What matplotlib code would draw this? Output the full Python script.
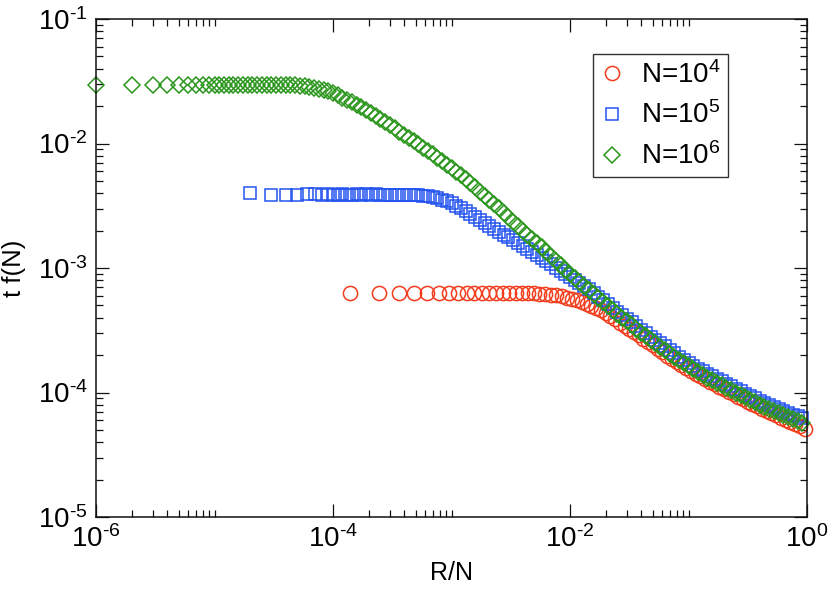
import numpy as np
import matplotlib
matplotlib.use("Agg")
import matplotlib.pyplot as plt
from matplotlib.ticker import FixedLocator, NullFormatter, FuncFormatter

plt.rcParams['font.family'] = ['Liberation Sans', 'DejaVu Sans']
plt.rcParams['mathtext.fontset'] = 'custom'
plt.rcParams['mathtext.rm'] = 'Liberation Sans'
plt.rcParams['mathtext.it'] = 'Liberation Sans:italic'
plt.rcParams['mathtext.bf'] = 'Liberation Sans:bold'
plt.rcParams['mathtext.default'] = 'regular'

# ---------------- data (log10 of R/N and of t f(N)) ----------------
labels = ['N=10$^4$', 'N=10$^5$', 'N=10$^6$']

red_logx = [
    -3.857, -3.613, -3.444, -3.314, -3.204, -3.108, -3.023, -2.945, -2.873, -2.806,
    -2.742, -2.681, -2.623, -2.566, -2.512, -2.459, -2.407, -2.357, -2.307, -2.258,
    -2.211, -2.163, -2.117, -2.071, -2.025, -1.980,
    -1.94, -1.90, -1.86, -1.82, -1.78, -1.74, -1.70, -1.66, -1.62, -1.58,
    -1.54, -1.50, -1.46, -1.42, -1.38, -1.34, -1.30, -1.26, -1.22, -1.18,
    -1.14, -1.10, -1.06, -1.02, -0.98, -0.94, -0.90, -0.86, -0.82, -0.78,
    -0.74, -0.70, -0.66, -0.62, -0.58, -0.54, -0.50, -0.46, -0.42, -0.38,
    -0.34, -0.30, -0.26, -0.22, -0.18, -0.14, -0.10, -0.06, -0.02]
red_logy = [
    -3.201, -3.200, -3.201, -3.200, -3.200, -3.200, -3.201, -3.200, -3.200, -3.200,
    -3.200, -3.200, -3.200, -3.200, -3.200, -3.200, -3.200, -3.201, -3.203, -3.205,
    -3.209, -3.214, -3.220, -3.227, -3.237, -3.248,
    -3.259, -3.272, -3.287, -3.303, -3.321, -3.341, -3.362, -3.386, -3.411, -3.438,
    -3.464, -3.490, -3.516, -3.542, -3.568, -3.594, -3.620, -3.648, -3.676, -3.703,
    -3.729, -3.755, -3.779, -3.803, -3.826, -3.848, -3.870, -3.892, -3.914, -3.935,
    -3.955, -3.975, -3.995, -4.015, -4.035, -4.055, -4.075, -4.093, -4.111, -4.129,
    -4.147, -4.165, -4.183, -4.201, -4.219, -4.237, -4.255, -4.273, -4.291]

blue_logx = [
    -4.699, -4.523, -4.398, -4.301, -4.222, -4.155, -4.097, -4.046, -4.000,
    -3.96, -3.92, -3.88, -3.84, -3.80, -3.76, -3.72, -3.68, -3.64, -3.60,
    -3.56, -3.52, -3.48, -3.44, -3.40, -3.36, -3.32, -3.28, -3.24, -3.20,
    -3.16, -3.12, -3.08, -3.04, -3.00, -2.96, -2.92, -2.88, -2.84, -2.80,
    -2.76, -2.72, -2.68, -2.64, -2.60, -2.56, -2.52, -2.48, -2.44, -2.40,
    -2.36, -2.32, -2.28, -2.24, -2.20, -2.16, -2.12, -2.08, -2.04, -2.00,
    -1.96, -1.92, -1.88, -1.84, -1.80, -1.76, -1.72, -1.68, -1.64, -1.60,
    -1.56, -1.52, -1.48, -1.44, -1.40, -1.36, -1.32, -1.28, -1.24, -1.20,
    -1.16, -1.12, -1.08, -1.04, -1.00, -0.96, -0.92, -0.88, -0.84, -0.80,
    -0.76, -0.72, -0.68, -0.64, -0.60, -0.56, -0.52, -0.48, -0.44, -0.40,
    -0.36, -0.32, -0.28, -0.24, -0.20, -0.16, -0.12, -0.08, -0.04]
blue_logy = [
    -2.400, -2.414, -2.414, -2.410, -2.408, -2.408, -2.410, -2.408, -2.410,
    -2.410, -2.408, -2.410, -2.411, -2.409, -2.410, -2.408, -2.410, -2.409, -2.410,
    -2.410, -2.410, -2.410, -2.410, -2.410, -2.412, -2.414, -2.417, -2.420, -2.425,
    -2.432, -2.440, -2.450, -2.462, -2.480, -2.500, -2.522, -2.545, -2.567, -2.590,
    -2.614, -2.638, -2.662, -2.686, -2.710, -2.732, -2.754, -2.776, -2.798, -2.820,
    -2.844, -2.868, -2.893, -2.919, -2.945, -2.971, -2.997, -3.022, -3.046, -3.070,
    -3.094, -3.118, -3.144, -3.172, -3.200, -3.230, -3.260, -3.290, -3.320, -3.350,
    -3.378, -3.406, -3.435, -3.465, -3.495, -3.523, -3.551, -3.578, -3.604, -3.630,
    -3.658, -3.686, -3.712, -3.736, -3.760, -3.784, -3.808, -3.830, -3.850, -3.870,
    -3.890, -3.910, -3.930, -3.950, -3.970, -3.990, -4.010, -4.029, -4.047, -4.065,
    -4.081, -4.097, -4.113, -4.129, -4.145, -4.161, -4.177, -4.192, -4.206]

green_logx = [
    -6.000, -5.699, -5.523, -5.398, -5.301, -5.222, -5.155, -5.097, -5.046, -5.000,
    -4.96, -4.92, -4.88, -4.84, -4.80, -4.76, -4.72, -4.68, -4.64, -4.60,
    -4.56, -4.52, -4.48, -4.44, -4.40, -4.36, -4.32, -4.28, -4.24, -4.20,
    -4.16, -4.12, -4.08, -4.04, -4.00, -3.96, -3.92, -3.88, -3.84, -3.80,
    -3.76, -3.72, -3.68, -3.64, -3.60, -3.56, -3.52, -3.48, -3.44, -3.40,
    -3.36, -3.32, -3.28, -3.24, -3.20, -3.16, -3.12, -3.08, -3.04, -3.00,
    -2.96, -2.92, -2.88, -2.84, -2.80, -2.76, -2.72, -2.68, -2.64, -2.60,
    -2.56, -2.52, -2.48, -2.44, -2.40, -2.36, -2.32, -2.28, -2.24, -2.20,
    -2.16, -2.12, -2.08, -2.04, -2.00, -1.96, -1.92, -1.88, -1.84, -1.80,
    -1.76, -1.72, -1.68, -1.64, -1.60, -1.56, -1.52, -1.48, -1.44, -1.40,
    -1.36, -1.32, -1.28, -1.24, -1.20, -1.16, -1.12, -1.08, -1.04, -1.00,
    -0.96, -0.92, -0.88, -0.84, -0.80, -0.76, -0.72, -0.68, -0.64, -0.60,
    -0.56, -0.52, -0.48, -0.44, -0.40, -0.36, -0.32, -0.28, -0.24, -0.20,
    -0.16, -0.12, -0.08, -0.04]
green_logy = [
    -1.530, -1.530, -1.530, -1.530, -1.530, -1.530, -1.530, -1.530, -1.530, -1.530,
    -1.530, -1.530, -1.530, -1.530, -1.530, -1.530, -1.530, -1.530, -1.530, -1.530,
    -1.530, -1.530, -1.530, -1.530, -1.530, -1.532, -1.534, -1.536, -1.540, -1.545,
    -1.552, -1.560, -1.570, -1.582, -1.595, -1.613, -1.631, -1.650, -1.670, -1.690,
    -1.710, -1.730, -1.752, -1.776, -1.800, -1.826, -1.852, -1.878, -1.904, -1.930,
    -1.956, -1.982, -2.008, -2.034, -2.060, -2.088, -2.116, -2.144, -2.172, -2.200,
    -2.228, -2.256, -2.286, -2.318, -2.350, -2.386, -2.422, -2.456, -2.488, -2.520,
    -2.556, -2.592, -2.628, -2.664, -2.700, -2.732, -2.764, -2.798, -2.834, -2.870,
    -2.906, -2.942, -2.978, -3.014, -3.050, -3.082, -3.114, -3.146, -3.178, -3.210,
    -3.242, -3.274, -3.306, -3.338, -3.370, -3.398, -3.426, -3.456, -3.488, -3.520,
    -3.548, -3.576, -3.604, -3.632, -3.660, -3.688, -3.716, -3.742, -3.766, -3.790,
    -3.814, -3.838, -3.860, -3.880, -3.900, -3.920, -3.940, -3.960, -3.980, -4.000,
    -4.020, -4.040, -4.060, -4.080, -4.100, -4.116, -4.132, -4.148, -4.164, -4.180,
    -4.196, -4.212, -4.228, -4.244]

x_limits = (1e-6, 1e0)
y_limits = (1e-5, 1e-1)
x_major_ticks = [1e-6, 1e-4, 1e-2, 1e0]
y_major_ticks = [1e-5, 1e-4, 1e-3, 1e-2, 1e-1]
x_label = 'R/N'
y_label = 't f(N)'

# ---------------- figure ----------------
RED = '#f23c1c'
BLUE = '#2453f0'
GREEN = '#2a961c'

fig = plt.figure(figsize=(8.30, 5.89), dpi=100)
ax = fig.add_axes([96 / 830, 1 - 517 / 589, 711 / 830, 498 / 589])

series = [
    (red_logx, red_logy, 'o', RED, 10.2),
    (blue_logx, blue_logy, 's', BLUE, 9.0),
    (green_logx, green_logy, 'D', GREEN, 8.0),
]
handles = []
for (lx, ly, mk, col, ms), lab in zip(series, labels):
    h, = ax.plot(10 ** np.array(lx), 10 ** np.array(ly), linestyle='none',
                 marker=mk, markersize=ms, markerfacecolor='none',
                 markeredgecolor=col, markeredgewidth=1.1, clip_on=False,
                 label=lab)
    handles.append(h)

ax.set_xscale('log')
ax.set_yscale('log')
ax.set_xlim(*x_limits)
ax.set_ylim(*y_limits)


def pow_label(v, pos):
    e = int(round(np.log10(v)))
    s = str(abs(e))
    if e < 0:
        s = '\u2010' + s
    return '$10^{' + s + '}$'


# x axis: major ticks every two decades, minor ticks 2..10 after each major
ax.xaxis.set_major_locator(FixedLocator(x_major_ticks))
ax.xaxis.set_minor_locator(FixedLocator(
    [k * t for t in x_major_ticks[:-1] for k in range(2, 11)]))
ax.yaxis.set_major_locator(FixedLocator(y_major_ticks))
ax.yaxis.set_minor_locator(FixedLocator(
    [k * t for t in y_major_ticks[:-1] for k in range(2, 10)]))
ax.xaxis.set_major_formatter(FuncFormatter(pow_label))
ax.yaxis.set_major_formatter(FuncFormatter(pow_label))
ax.xaxis.set_minor_formatter(NullFormatter())
ax.yaxis.set_minor_formatter(NullFormatter())

for s in ax.spines.values():
    s.set_linewidth(1.1)
    s.set_color('#111111')

ax.tick_params(which='both', direction='in', top=True, right=True,
               color='#111111', labelsize=20)
ax.tick_params(which='major', length=9.4, width=0.9, pad=6)
ax.tick_params(which='minor', length=4.7, width=0.9)

ax.set_xlabel(x_label, fontsize=18)
ax.set_ylabel(y_label, fontsize=18.5)
ax.xaxis.set_label_coords(0.5, -0.088)
ax.yaxis.set_label_coords(-0.098, 0.5)

leg = ax.legend(handles=handles, loc='upper left', bbox_to_anchor=(0.699, 0.93),
                fontsize=20, frameon=True, fancybox=False, framealpha=1,
                edgecolor='#333333', borderpad=0.25, handlelength=0.9,
                handletextpad=0.58, labelspacing=0.47, borderaxespad=0)
leg.get_frame().set_linewidth(1.0)

fig.savefig('out.png', dpi=100, facecolor='white')
